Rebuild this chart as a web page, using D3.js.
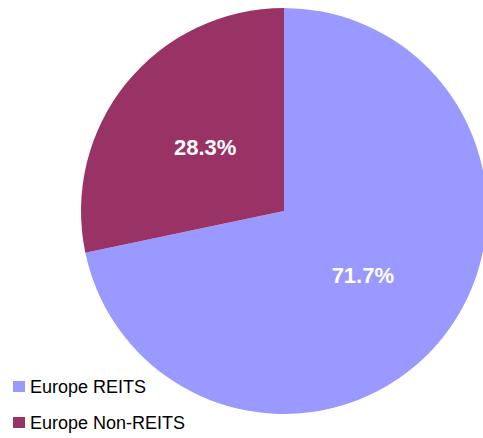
<!DOCTYPE html>
<html>
<head>
<meta charset="utf-8">
<script src="https://cdn.jsdelivr.net/npm/d3@7"></script>
<style>
  body { margin: 0; background: #fff; }
  svg { display: block; font-family: Arial, "Liberation Sans", sans-serif; }
</style>
</head>
<body>
<div id="chart"></div>
<script>
// chart data
const categories = ["Europe REITS", "Europe Non-REITS"];
const values = [71.7, 28.3];
const colors = ["#9999FF", "#993366"];

const width = 483, height = 438;
const cx = 284, cy = 211, radius = 203;

const svg = d3.select("#chart")
  .append("svg")
    .attr("width", width)
    .attr("height", height);

const data = categories.map((c, i) => ({ name: c, value: values[i], color: colors[i] }));

// first slice goes clockwise from 12 o'clock, so the small one ends at the top
const pie = d3.pie()
  .value(d => d.value)
  .sort(null);

const arc = d3.arc().innerRadius(0).outerRadius(radius);
const labelArc = d3.arc().innerRadius(radius * 0.5).outerRadius(radius * 0.5);

const g = svg.append("g")
  .attr("transform", `translate(${cx},${cy})`);

const slices = pie(data);

g.selectAll("path")
  .data(slices)
  .join("path")
    .attr("d", arc)
    .attr("fill", d => d.data.color);

g.selectAll("text")
  .data(slices)
  .join("text")
    .attr("transform", d => `translate(${labelArc.centroid(d)})`)
    .attr("text-anchor", "middle")
    .attr("dy", "0.36em")
    .style("font-size", "22px")
    .style("font-weight", "bold")
    .style("fill", "#fff")
    .text(d => d.data.value.toFixed(1) + "%");

// legend
const legend = svg.append("g")
  .selectAll("g")
  .data(data)
  .join("g")
    .attr("transform", (d, i) => `translate(13, ${381 + i * 36})`);

legend.append("rect")
  .attr("width", 12)
  .attr("height", 11)
  .attr("fill", d => d.color);

legend.append("text")
  .attr("x", 17)
  .attr("y", 11.5)
  .style("font-size", "18px")
  .style("fill", "#000")
  .text(d => d.name);
</script>
</body>
</html>
